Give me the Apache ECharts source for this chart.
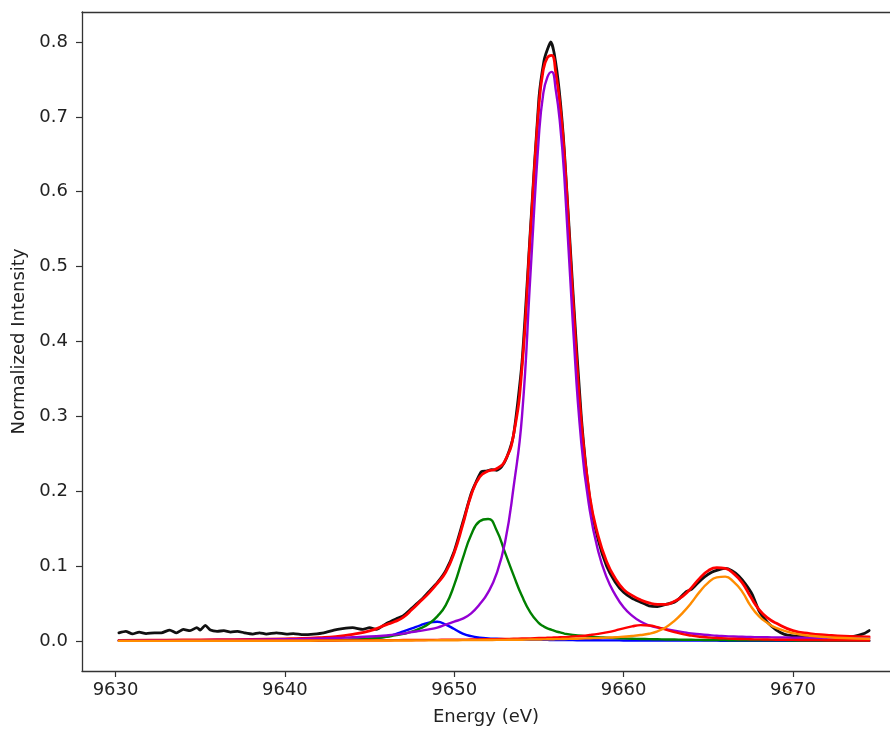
<!DOCTYPE html>
<html>
<head>
<meta charset="utf-8">
<script src="https://cdn.jsdelivr.net/npm/echarts@6/dist/echarts.min.js"></script>
<style>
  html, body { margin: 0; padding: 0; background: #fff; }
  #chart { width: 890px; height: 733px; }
</style>
</head>
<body>
<div id="chart"></div>
<script>
// Measured spectrum (noisy trace)
const dataEnergy = [9630.2, 9630.6, 9631.0, 9631.4, 9631.8, 9632.3, 9632.7, 9633.2, 9633.6, 9634.0,
  9634.4, 9634.8, 9635.0, 9635.3, 9635.6, 9636.0, 9636.4, 9636.8, 9637.2, 9637.6,
  9638.1, 9638.5, 9638.9, 9639.5, 9640.1, 9640.5, 9641.1, 9641.7, 9642.3, 9642.9,
  9643.4, 9644.0, 9644.6, 9645.0, 9645.4, 9646.0, 9646.6, 9647.0, 9647.5, 9648.0,
  9648.5, 9649.0, 9649.5, 9650.0, 9650.5, 9651.0, 9651.3, 9651.6, 9651.9, 9652.2,
  9652.5, 9652.8, 9653.1, 9653.5, 9654.0, 9654.5, 9655.0, 9655.3, 9655.5, 9655.7,
  9655.9, 9656.2, 9656.5, 9657.0, 9657.5, 9658.0, 9658.5, 9659.0, 9659.5, 9660.0,
  9660.5, 9661.0, 9661.5, 9662.0, 9662.5, 9663.0, 9663.3, 9663.7, 9664.0, 9664.4,
  9664.8, 9665.2, 9665.6, 9666.0, 9666.4, 9666.8, 9667.2, 9667.6, 9668.0, 9668.5,
  9669.0, 9669.5, 9670.0, 9670.5, 9671.0, 9671.5, 9672.0, 9672.5, 9673.0, 9673.5,
  9673.9, 9674.2, 9674.5];
const dataIntensity = [0.011, 0.013, 0.0095, 0.012, 0.010, 0.011, 0.011, 0.0147, 0.011, 0.0156,
  0.0138, 0.018, 0.0147, 0.021, 0.0147, 0.013, 0.0138, 0.012, 0.013, 0.011,
  0.0093, 0.011, 0.0093, 0.011, 0.0093, 0.010, 0.0085, 0.0093, 0.011, 0.0147,
  0.0165, 0.0178, 0.0156, 0.018, 0.0156, 0.0236, 0.030, 0.034, 0.044, 0.054,
  0.066, 0.078, 0.094, 0.120, 0.158, 0.197, 0.213, 0.226, 0.227, 0.229,
  0.228, 0.233, 0.245, 0.275, 0.372, 0.550, 0.725, 0.775, 0.790, 0.800,
  0.785, 0.735, 0.655, 0.470, 0.300, 0.190, 0.135, 0.100, 0.079, 0.065,
  0.057, 0.052, 0.047, 0.046, 0.049, 0.052, 0.057, 0.066, 0.069, 0.078,
  0.086, 0.092, 0.095, 0.097, 0.094, 0.087, 0.076, 0.062, 0.040, 0.025,
  0.015, 0.009, 0.007, 0.006, 0.006, 0.0055, 0.005, 0.0055, 0.005, 0.006,
  0.008, 0.010, 0.014];

// Energy grid shared by the fitted envelope and its components
const fitEnergy = [9630.2, 9632, 9634, 9636, 9638, 9640, 9641, 9642, 9643, 9644,
  9645, 9646, 9646.5, 9647, 9647.5, 9648, 9648.5, 9649, 9649.5, 9650,
  9650.5, 9651, 9651.5, 9652, 9652.5, 9653, 9653.5, 9654, 9654.5, 9655,
  9655.25, 9655.5, 9655.75, 9656, 9656.25, 9656.5, 9657, 9657.5, 9658, 9658.5,
  9659, 9659.5, 9660, 9660.5, 9661, 9661.5, 9662, 9662.5, 9663, 9663.5,
  9664, 9664.5, 9665, 9665.5, 9666, 9666.5, 9667, 9667.5, 9668, 9668.5,
  9669, 9670, 9671, 9672, 9673, 9674.5];

const fitTotal = [0.001, 0.0012, 0.0015, 0.0018, 0.0022, 0.003, 0.0035, 0.0045, 0.006, 0.009,
  0.0135, 0.022, 0.026, 0.032, 0.042, 0.053, 0.064, 0.077, 0.092, 0.118,
  0.155, 0.195, 0.219, 0.227, 0.230, 0.241, 0.275, 0.365, 0.545, 0.715,
  0.762, 0.779, 0.782, 0.758, 0.715, 0.650, 0.460, 0.293, 0.193, 0.140,
  0.106, 0.084, 0.069, 0.061, 0.055, 0.051, 0.049, 0.049, 0.053, 0.060,
  0.071, 0.084, 0.094, 0.098, 0.097, 0.090, 0.078, 0.059, 0.042, 0.031,
  0.024, 0.014, 0.010, 0.008, 0.0065, 0.0055];

const peakA = [0.0002, 0.0002, 0.0003, 0.0003, 0.0004, 0.0005, 0.0006, 0.0008, 0.0011, 0.0016,
  0.003, 0.006, 0.009, 0.013, 0.017, 0.021, 0.0245, 0.0257, 0.022, 0.016,
  0.010, 0.0065, 0.0045, 0.0035, 0.003, 0.0025, 0.0022, 0.002, 0.0018, 0.0016,
  0.0015, 0.0015, 0.0014, 0.0014, 0.0013, 0.0013, 0.0012, 0.0011, 0.001, 0.001,
  0.0009, 0.0009, 0.0008, 0.0008, 0.0007, 0.0007, 0.0007, 0.0006, 0.0006, 0.0006,
  0.0005, 0.0005, 0.0005, 0.0005, 0.0004, 0.0004, 0.0004, 0.0004, 0.0004, 0.0004,
  0.0003, 0.0003, 0.0003, 0.0003, 0.0003, 0.0002];

const peakB = [0.0003, 0.0003, 0.0004, 0.0004, 0.0005, 0.0006, 0.0008, 0.001, 0.0015, 0.002,
  0.003, 0.0055, 0.0075, 0.0095, 0.0125, 0.017, 0.023, 0.033, 0.048, 0.075,
  0.110, 0.142, 0.160, 0.163, 0.148, 0.118, 0.088, 0.060, 0.038, 0.024,
  0.020, 0.017, 0.015, 0.013, 0.0115, 0.010, 0.008, 0.007, 0.006, 0.005,
  0.0045, 0.004, 0.0035, 0.003, 0.0028, 0.0025, 0.0023, 0.0021, 0.002, 0.0018,
  0.0017, 0.0015, 0.0014, 0.0013, 0.0012, 0.0011, 0.0011, 0.001, 0.001, 0.0009,
  0.0009, 0.0008, 0.0007, 0.0006, 0.0006, 0.0005];

const peakC = [0.0008, 0.001, 0.0012, 0.0014, 0.0018, 0.0024, 0.0028, 0.0033, 0.004, 0.005,
  0.006, 0.0075, 0.0085, 0.010, 0.012, 0.0135, 0.0155, 0.018, 0.022, 0.026,
  0.030, 0.037, 0.049, 0.065, 0.090, 0.132, 0.205, 0.30, 0.49, 0.675,
  0.730, 0.753, 0.760, 0.735, 0.690, 0.620, 0.425, 0.265, 0.175, 0.120,
  0.085, 0.062, 0.045, 0.034, 0.026, 0.021, 0.018, 0.016, 0.014, 0.012,
  0.010, 0.009, 0.008, 0.007, 0.0065, 0.006, 0.0057, 0.0054, 0.0052, 0.005,
  0.0048, 0.0045, 0.0042, 0.004, 0.0038, 0.0035];

const peakD = [0.0003, 0.0003, 0.0004, 0.0004, 0.0005, 0.0006, 0.0006, 0.0007, 0.0008, 0.0009,
  0.001, 0.0011, 0.0012, 0.0013, 0.0013, 0.0014, 0.0015, 0.0016, 0.0017, 0.0018,
  0.0019, 0.002, 0.0022, 0.0024, 0.0026, 0.0028, 0.003, 0.0033, 0.0036, 0.004,
  0.0042, 0.0044, 0.0046, 0.0048, 0.005, 0.0053, 0.006, 0.0068, 0.008, 0.0095,
  0.0115, 0.014, 0.017, 0.0195, 0.0212, 0.0208, 0.0185, 0.0152, 0.012, 0.0092,
  0.0072, 0.0058, 0.0048, 0.004, 0.0035, 0.003, 0.0027, 0.0024, 0.0022, 0.002,
  0.0018, 0.0015, 0.0013, 0.0011, 0.001, 0.0008];

const peakE = [0.0002, 0.0002, 0.0003, 0.0003, 0.0003, 0.0004, 0.0004, 0.0005, 0.0005, 0.0006,
  0.0006, 0.0007, 0.0007, 0.0008, 0.0008, 0.0009, 0.0009, 0.001, 0.001, 0.0011,
  0.0012, 0.0012, 0.0013, 0.0014, 0.0015, 0.0016, 0.0017, 0.0018, 0.002, 0.0021,
  0.0022, 0.0023, 0.0024, 0.0025, 0.0026, 0.0027, 0.003, 0.0033, 0.0037, 0.004,
  0.0045, 0.005, 0.0058, 0.0067, 0.008, 0.0098, 0.013, 0.0185, 0.027, 0.038,
  0.051, 0.066, 0.078, 0.085, 0.086, 0.079, 0.066, 0.047, 0.033, 0.024,
  0.0175, 0.0105, 0.007, 0.0052, 0.004, 0.003];

// Axis ticks
const xTicks = [9630, 9640, 9650, 9660, 9670];
const yTicks = [0.0, 0.1, 0.2, 0.3, 0.4, 0.5, 0.6, 0.7, 0.8];

const pairs = (xs, ys) => xs.map((x, i) => [x, ys[i]]);

const FONT = 'DejaVu Sans';
const AXIS_COLOR = '#333';
const TEXT_COLOR = '#222';

function curve(name, xs, ys, color, width, z, smooth) {
  return {
    name: name,
    type: 'line',
    data: pairs(xs, ys),
    showSymbol: false,
    symbol: 'none',
    smooth: smooth,
    lineStyle: { color: color, width: width, join: 'round', cap: 'round' },
    z: z,
    animation: false
  };
}

const chart = echarts.init(document.getElementById('chart'), null, { renderer: 'canvas' });
chart.setOption({
  backgroundColor: '#ffffff',
  animation: false,
  // the plot frame runs past the right edge of the canvas, so only
  // the left, bottom and top spines are drawn
  grid: { left: 82, top: 12, right: 0, bottom: 62, show: false },
  xAxis: [{
    type: 'value',
    min: 9628.02, max: 9675.73,
    name: 'Energy (eV)',
    nameLocation: 'middle',
    nameGap: 37,
    nameTextStyle: { fontFamily: FONT, fontSize: 18, color: TEXT_COLOR },
    axisLine: { show: true, onZero: false, lineStyle: { color: AXIS_COLOR, width: 1.3 } },
    axisTick: { show: true, length: 6, customValues: xTicks, lineStyle: { color: AXIS_COLOR, width: 1.2 } },
    axisLabel: { customValues: xTicks, margin: 10, fontFamily: FONT, fontSize: 18, color: TEXT_COLOR,
      formatter: v => String(v) },
    splitLine: { show: false }
  }, {
    type: 'value',
    position: 'top',
    min: 9628.02, max: 9675.73,
    axisLine: { show: true, onZero: false, lineStyle: { color: AXIS_COLOR, width: 1.3 } },
    axisTick: { show: false },
    axisLabel: { show: false },
    splitLine: { show: false }
  }],
  yAxis: {
    type: 'value',
    min: -0.04, max: 0.84,
    name: 'Normalized Intensity',
    nameLocation: 'middle',
    nameGap: 53,
    nameTextStyle: { fontFamily: FONT, fontSize: 18, color: TEXT_COLOR },
    axisLine: { show: true, onZero: false, lineStyle: { color: AXIS_COLOR, width: 1.3 } },
    axisTick: { show: true, length: 6, customValues: yTicks, lineStyle: { color: AXIS_COLOR, width: 1.2 } },
    axisLabel: { customValues: yTicks, margin: 14, fontFamily: FONT, fontSize: 18, color: TEXT_COLOR,
      formatter: v => v.toFixed(1) },
    splitLine: { show: false }
  },
  series: [
    curve('Data', dataEnergy, dataIntensity, '#111111', 2.8, 2, 0.2),
    curve('Fit', fitEnergy, fitTotal, '#ff0000', 2.8, 3, 0.5),
    curve('Peak 1', fitEnergy, peakA, '#0000ff', 2.4, 4, 0.5),
    curve('Peak 2', fitEnergy, peakB, '#008000', 2.4, 4, 0.5),
    curve('Peak 3', fitEnergy, peakC, '#9400d3', 2.4, 4, 0.5),
    curve('Peak 4', fitEnergy, peakD, '#ff0000', 2.4, 4, 0.5),
    curve('Peak 5', fitEnergy, peakE, '#ff8c00', 2.4, 4, 0.5)
  ]
});
</script>
</body>
</html>
